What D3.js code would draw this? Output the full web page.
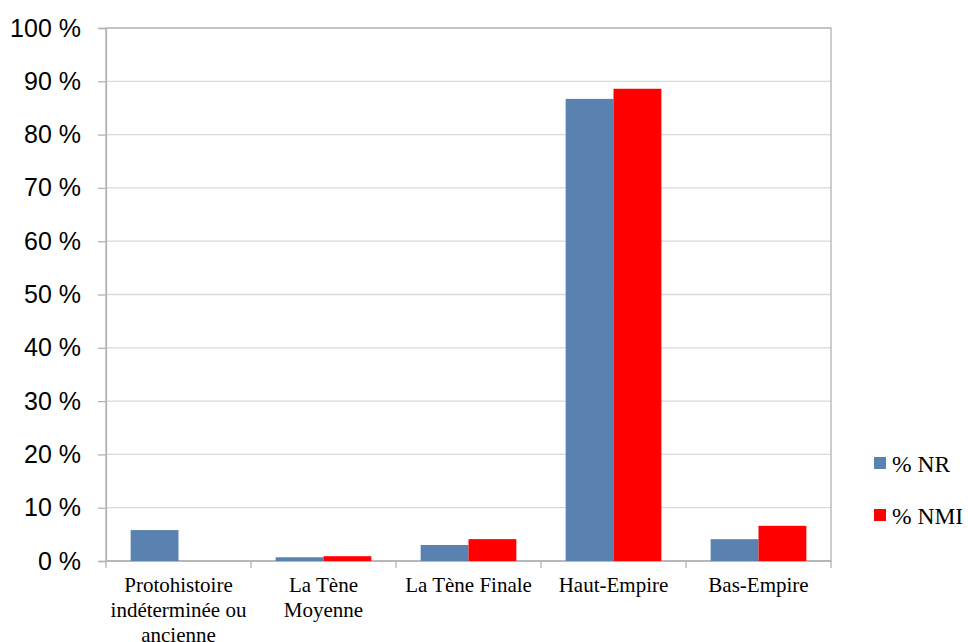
<!DOCTYPE html>
<html><head><meta charset="utf-8">
<script src="https://cdn.jsdelivr.net/npm/d3@7"></script>
<style>body{margin:0;background:#fff}svg{display:block}
.serif{font-family:"Liberation Serif","Times New Roman",serif}
.sans{font-family:"Liberation Sans",Arial,sans-serif}
</style>
</head><body>
<svg id="c" width="968" height="642"></svg>
<script>
const categories = [["Protohistoire","indéterminée ou","ancienne"],["La Tène","Moyenne"],["La Tène Finale"],["Haut-Empire"],["Bas-Empire"]];
const seriesNames = ["% NR","% NMI"];
const seriesColors = ["#5982B0","#FF0000"];
const valuesNR = [5.8, 0.7, 3.0, 86.7, 4.1];
const valuesNMI = [0, 0.9, 4.1, 88.6, 6.6];
const yTicks = [0,10,20,30,40,50,60,70,80,90,100];

const svg = d3.select("#c");
const L = 106, R = 831, T = 28, B = 561;
const x = d3.scaleBand().domain(d3.range(categories.length)).range([L,R]).paddingInner(0.34).paddingOuter(0.17);
const x1 = d3.scaleBand().domain([0,1]).range([0,x.bandwidth()]);
const y = d3.scaleLinear().domain([0,100]).range([B,T]);

// gridlines
svg.append("g").selectAll("line").data(yTicks).join("line")
  .attr("x1",L).attr("x2",R).attr("y1",d=>y(d)).attr("y2",d=>y(d))
  .attr("stroke","#d9d9d9").attr("stroke-width",1.3);

// border
svg.append("rect").attr("x",L).attr("y",T).attr("width",R-L).attr("height",B-T)
  .attr("fill","none").attr("stroke","#b3b3b3").attr("stroke-width",1.3);

// y axis
const ya = d3.axisLeft(y).tickValues(yTicks).tickSize(8).tickPadding(17).tickFormat(d=>d+" %");
const yg = svg.append("g").attr("transform",`translate(${L},0)`).call(ya);
yg.attr("font-family",null).attr("font-size",null);
yg.select(".domain").attr("stroke","#b3b3b3").attr("stroke-width",1.3);
yg.selectAll(".tick line").attr("stroke","#b3b3b3").attr("stroke-width",1.3);
yg.selectAll("text").attr("class","sans").style("font-size","25px").attr("fill","#000");

// x axis ticks
const bounds = d3.range(categories.length+1).map(i=>L+(R-L)*i/categories.length);
svg.append("g").selectAll("line").data(bounds).join("line")
  .attr("x1",d=>d).attr("x2",d=>d).attr("y1",B).attr("y2",B+7)
  .attr("stroke","#b3b3b3").attr("stroke-width",1.3);
svg.append("line").attr("x1",L).attr("x2",R).attr("y1",B).attr("y2",B).attr("stroke","#b3b3b3").attr("stroke-width",1.3);

// labels
const lab = svg.append("g").selectAll("text").data(categories).join("text")
  .attr("class","serif").attr("text-anchor","middle")
  .style("font-size","21px").attr("fill","#000")
  .attr("transform",(d,i)=>`translate(${x(i)+x.bandwidth()/2},${B+31})`);
lab.selectAll("tspan").data(d=>d).join("tspan").attr("x",0).attr("dy",(d,j)=>j===0?0:25).text(d=>d);

// bars
const data = [valuesNR, valuesNMI];
data.forEach((vals,s)=>{
  svg.append("g").selectAll("rect").data(vals).join("rect")
    .attr("x",(d,i)=>x(i)+x1(s)).attr("width",x1.bandwidth())
    .attr("y",d=>y(d)).attr("height",d=>B-y(d))
    .attr("fill",seriesColors[s]);
});

// legend
const lg = svg.append("g").selectAll("g").data(seriesNames).join("g")
  .attr("transform",(d,i)=>`translate(874,${457+i*52})`);
lg.append("rect").attr("width",12).attr("height",12).attr("fill",(d,i)=>seriesColors[i]);
lg.append("text").attr("class","serif").attr("x",18).attr("y",14.5)
  .style("font-size","23.5px").attr("fill","#000").text(d=>d);
</script>
</body></html>
